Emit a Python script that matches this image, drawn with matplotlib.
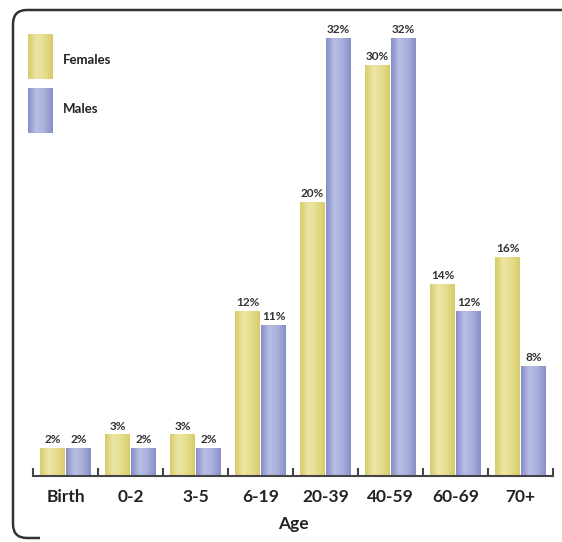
import numpy as np
import matplotlib
matplotlib.use("Agg")
from matplotlib import pyplot as plt
from matplotlib.colors import LinearSegmentedColormap
from matplotlib.path import Path
from matplotlib.patches import PathPatch

ages = ["Birth", "0-2", "3-5", "6-19", "20-39", "40-59", "60-69", "70+"]
females = [2, 3, 3, 12, 20, 30, 14, 16]
males = [2, 2, 2, 11, 32, 32, 12, 8]

W, H = 562, 542
plt.rcParams["font.family"] = ["Lato", "DejaVu Sans"]

yellow = LinearSegmentedColormap.from_list("y", ["#d8cb6a", "#ece6a6", "#e6dd8c", "#d8cb6a"])
blue = LinearSegmentedColormap.from_list("b", ["#878ec8", "#b9bfe3", "#a8afdb", "#878ec8"])
grad = np.linspace(0, 1, 64).reshape(1, -1)


def shade(ax, x0, x1, y0, y1, cmap):
    ax.imshow(grad, cmap=cmap, extent=(x0, x1, y0, y1), aspect="auto",
              interpolation="bilinear", zorder=2)


fig = plt.figure(figsize=(W / 100, H / 100), dpi=100)
ax = fig.add_axes([33 / W, 66 / H, 520 / W, 466 / H])

bw = 0.37
off = 0.2
x = np.arange(len(ages))
for i in range(len(ages)):
    for val, dx, cm in ((females[i], -off, yellow), (males[i], off, blue)):
        shade(ax, x[i] + dx - bw / 2, x[i] + dx + bw / 2, 0, val, cm)
        ax.text(x[i] + dx, val + 0.25, f"{val}%", ha="center", va="bottom",
                fontsize=8.5, fontweight="bold", color="#333333")

ax.set_xlim(-0.5, 7.5)
ax.set_ylim(0, 34.05)
for s in ("top", "right", "left"):
    ax.spines[s].set_visible(False)
ax.spines["bottom"].set_color("#444444")
ax.spines["bottom"].set_linewidth(1.5)
ax.set_yticks([])
ax.set_xticks(x)
ax.set_xticklabels(ages, fontsize=12.5, fontweight="bold", color="#222222")
ax.tick_params(axis="x", length=0, pad=9)
ax.set_xticks(np.arange(-0.5, 8, 1), minor=True)
ax.tick_params(axis="x", which="minor", direction="in", length=6, width=1.5, color="#444444")
ax.set_xlabel("Age", fontsize=12.5, fontweight="bold", color="#222222", labelpad=8)

# legend
for (label, cm, ytop, ty) in (("Females", yellow, 34, 60), ("Males", blue, 88, 109)):
    lax = fig.add_axes([28 / W, (H - ytop - 45) / H, 24 / W, 45 / H])
    lax.imshow(grad, cmap=cm, aspect="auto", interpolation="bilinear")
    lax.axis("off")
    fig.text(63 / W, 1 - ty / H, label, fontsize=9.5, fontweight="bold",
             color="#222222", va="center")

# rounded frame (left, top)
r = 14
verts = [(40, 538), (13 + r, 538), (13, 538), (13, 538 - r), (13, 10 + r), (13, 10), (13 + r, 10), (W + 5, 10)]
codes = [Path.MOVETO, Path.LINETO, Path.CURVE3, Path.CURVE3, Path.LINETO, Path.CURVE3, Path.CURVE3, Path.LINETO]
verts = [(vx / W, 1 - vy / H) for vx, vy in verts]
fig.patches.append(PathPatch(Path(verts, codes), fill=False, edgecolor="#333333", lw=1.8,
                             transform=fig.transFigure, capstyle="butt"))

fig.savefig("out.png", dpi=100)
